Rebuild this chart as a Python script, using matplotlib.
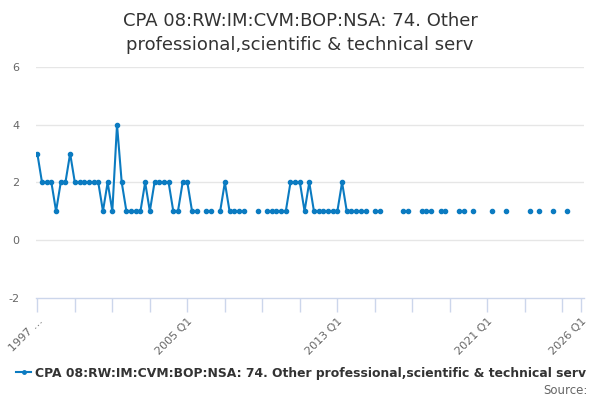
import numpy as np
import matplotlib
matplotlib.use("Agg")
import matplotlib.pyplot as plt
from matplotlib.lines import Line2D

# === Data: quarterly values from 1997 Q1, None = no value ===
values = [
    3, 2, 2, 2, 1, 2, 2, 3, 2, 2, 2, 2, 2, 2, 1, 2,
    1, 4, 2, 1, 1, 1, 1, 2, 1, 2, 2, 2, 2, 1, 1, 2,
    2, 1, 1, None, 1, 1, None, 1, 2, 1, 1, 1, 1, None, None, 1,
    None, 1, 1, 1, 1, 1, 2, 2, 2, 1, 2, 1, 1, 1, 1, 1,
    1, 2, 1, 1, 1, 1, 1, None, 1, 1, None, None, None, None, 1, 1,
    None, None, 1, 1, 1, None, 1, 1, None, None, 1, 1, None, 1, None, None,
    None, 1, None, None, 1, None, None, None, None, 1, None, 1, None, None, 1, None,
    None, 1,
]
start_year = 1997
end_tick_label = "2026 Q1"
labelled_ticks = {0: "1997 \u2026", 32: "2005 Q1", 64: "2013 Q1", 96: "2021 Q1", 116: end_tick_label}
series_name = "CPA 08:RW:IM:CVM:BOP:NSA: 74. Other professional,scientific & technical serv"
title = "CPA 08:RW:IM:CVM:BOP:NSA: 74. Other\nprofessional,scientific & technical serv"
y_ticks = [-2, 0, 2, 4, 6]

LINE = "#0b7bc1"
GRID = "#e6e6e6"
AXIS = "#ccd6eb"
TXT = "#333333"
MUTED = "#666666"

y = np.array([np.nan if v is None else v for v in values], dtype=float)
x = np.arange(len(y))

fig = plt.figure(figsize=(6, 4), dpi=100)
ax = fig.add_axes([36 / 600, 1 - 297.7 / 400, (584 - 36) / 600, (297.7 - 67) / 400])

ax.plot(x, y, color=LINE, linewidth=1.5, marker="o", markersize=3, zorder=3)

ax.set_xlim(-0.28, 116.6)
ax.set_ylim(-2, 6)

# grid + axes
ax.set_yticks(y_ticks)
ax.set_yticklabels([str(t) for t in y_ticks])
for t in y_ticks[1:]:
    ax.axhline(t, color=GRID, linewidth=1, zorder=1)
for s in ["top", "right", "left"]:
    ax.spines[s].set_visible(False)
ax.spines["bottom"].set_color(AXIS)
ax.spines["bottom"].set_linewidth(1)
ax.tick_params(axis="y", length=0, pad=12, labelsize=8, labelcolor=MUTED)

xt = list(range(0, 113, 8)) + [116]
ax.set_xticks(xt)
ax.set_xticklabels([labelled_ticks.get(t, "") for t in xt], rotation=45,
                   ha="right", va="top", rotation_mode="anchor")
ax.tick_params(axis="x", length=10, width=1, color=AXIS, pad=3,
               labelsize=8, labelcolor=MUTED)

fig.text(0.5, 1 - 33 / 400, title, ha="center", va="center", fontsize=13,
         color=TXT, linespacing=1.45)

handle = Line2D([0], [0], color=LINE, linewidth=1.5, marker="o", markersize=2.5)
fig.legend([handle], [series_name], loc="center left", bbox_to_anchor=(5 / 600, 1 - 373 / 400),
           frameon=False, prop={"weight": "bold", "size": 8.9}, labelcolor=TXT,
           handlelength=1.2, handletextpad=0.35)

fig.text(0.98, 1 - 390 / 400, "Source:", ha="right", va="center", fontsize=8.5,
         color=MUTED)

fig.savefig("out.png", dpi=100, facecolor="white")
